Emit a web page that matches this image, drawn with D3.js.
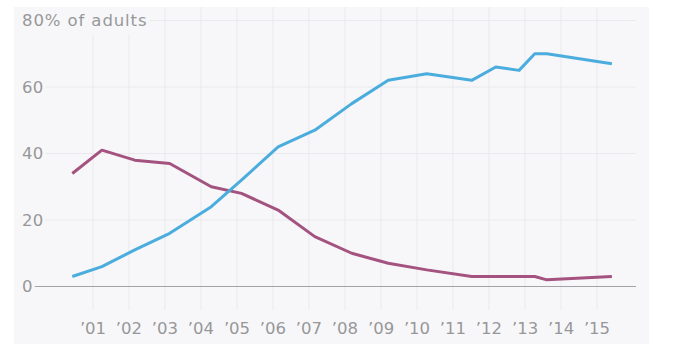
<!DOCTYPE html>
<html>
<head>
<meta charset="utf-8">
<script src="https://cdn.jsdelivr.net/npm/d3@7"></script>
<style>
  html, body { margin: 0; padding: 0; background: #ffffff; }
  svg { display: block; }
  text { font-family: "DejaVu Sans", sans-serif; }
</style>
</head>
<body>
<svg id="chart" width="678" height="355"></svg>
<script>
// ---- data ----
const dates = ["2000-06-05","2001-04-01","2002-03-01","2003-02-18","2004-04-15","2005-02-15",
               "2006-02-22","2007-03-01","2008-03-10","2009-03-15","2010-04-10","2011-07-10",
               "2012-03-10","2012-11-01","2013-04-10","2013-08-10","2015-06-01"];
const broadband = [3, 6, 11, 16, 24, 32, 42, 47, 55, 62, 64, 62, 66, 65, 70, 70, 67];
const dialup    = [34, 41, 38, 37, 30, 28, 23, 15, 10, 7, 5, 3, 3, 3, 3, 2, 3];
const tickYears = [2001,2002,2003,2004,2005,2006,2007,2008,2009,2010,2011,2012,2013,2014,2015];
const tickLabels = ["’01","’02","’03","’04","’05","’06","’07","’08","’09","’10","’11","’12","’13","’14","’15"];
const yTicks = [0, 20, 40, 60, 80];
const yTickLabels = ["0", "20", "40", "60", "80% of adults"];

// ---- layout ----
const svg = d3.select("#chart");
const panel = {x: 14, y: 7, w: 635, h: 337};
const bg = "#f7f7f9";
const parse = d3.timeParse("%Y-%m-%d");

const x = d3.scaleTime()
  .domain([new Date(2001, 0, 1), new Date(2015, 0, 1)])
  .range([93, 597]);
const y = d3.scaleLinear().domain([0, 80]).range([286.5, 20.5]);

svg.append("rect").attr("x", panel.x).attr("y", panel.y)
  .attr("width", panel.w).attr("height", panel.h).attr("fill", bg);

// vertical gridlines
svg.append("g").selectAll("line").data(tickYears).join("line")
  .attr("x1", d => x(new Date(d, 0, 1))).attr("x2", d => x(new Date(d, 0, 1)))
  .attr("y1", panel.y).attr("y2", 310)
  .attr("stroke", "#eaeaee").attr("stroke-width", 1);

// horizontal gridlines
svg.append("g").selectAll("line").data(yTicks).join("line")
  .attr("x1", 22).attr("x2", 636)
  .attr("y1", d => y(d)).attr("y2", d => y(d))
  .attr("stroke", d => d === 0 ? "#a3a3a6" : "#eaeaee").attr("stroke-width", 1);

// y labels with background
const yl = svg.append("g");
yTicks.forEach((t, i) => {
  const g = yl.append("g");
  const r = g.append("rect").attr("fill", bg);
  const tx = g.append("text").attr("x", 22).attr("y", y(t))
    .attr("dy", "0.36em").attr("font-size", 16.5).attr("fill", "#979799")
    .attr("letter-spacing", i === 4 ? 0.9 : 0.3)
    .text(yTickLabels[i]);
  const bb = tx.node().getBBox();
  if (i === 4) {
    r.attr("x", panel.x).attr("y", panel.y).attr("width", bb.x + bb.width + 2 - panel.x).attr("height", 28);
  } else {
    r.attr("x", 20).attr("y", bb.y).attr("width", bb.width + 4).attr("height", bb.height);
  }
});

// x labels
svg.append("g").selectAll("text").data(tickYears).join("text")
  .attr("x", d => x(new Date(d, 0, 1))).attr("y", 334)
  .attr("text-anchor", "middle").attr("font-size", 16.5).attr("fill", "#979799")
  .text((d, i) => tickLabels[i]);

// lines
const pts = vals => vals.map((v, i) => [x(parse(dates[i])), y(v)]);
const line = d3.line();
svg.append("path").attr("d", line(pts(dialup)))
  .attr("fill", "none").attr("stroke", "#a4527f").attr("stroke-width", 3)
  .attr("stroke-linejoin", "round");
svg.append("path").attr("d", line(pts(broadband)))
  .attr("fill", "none").attr("stroke", "#4badde").attr("stroke-width", 3)
  .attr("stroke-linejoin", "round");
</script>
</body>
</html>
